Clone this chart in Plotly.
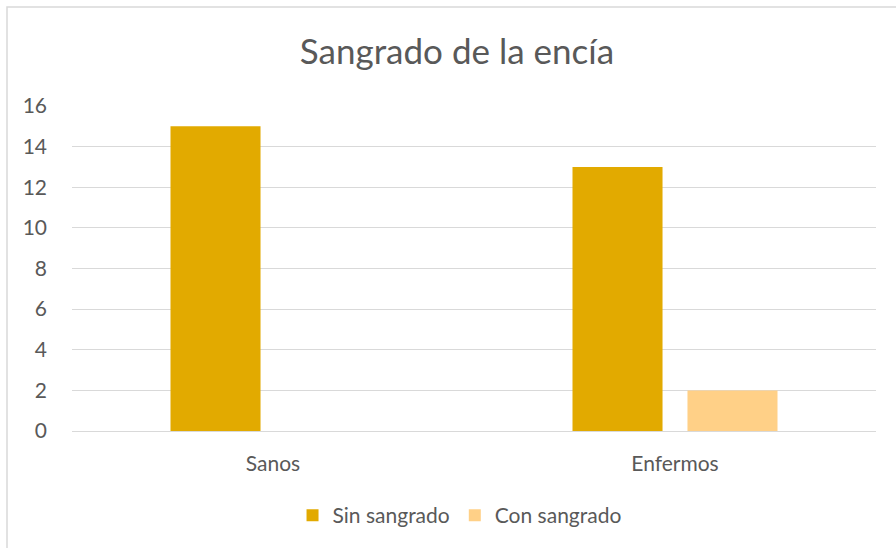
import plotly.graph_objects as go

categories = ["Sanos", "Enfermos"]
sin_sangrado = [15, 13]
con_sangrado = [0, 2]
y_ticks = [0, 2, 4, 6, 8, 10, 12, 14, 16]

TEXT = "#595959"
FONT = "Lato"

fig = go.Figure()
fig.add_trace(go.Bar(name="Sin sangrado", x=categories, y=sin_sangrado,
                     marker=dict(color="#E2AA00", line=dict(width=0))))
fig.add_trace(go.Bar(name="Con sangrado", x=categories, y=con_sangrado,
                     marker=dict(color="#FFD087", line=dict(width=0))))

fig.update_layout(
    width=896, height=548,
    margin=dict(l=72, r=20, t=106, b=117),
    paper_bgcolor="white", plot_bgcolor="white",
    barmode="group", bargap=0.428, bargroupgap=0.217,
    font=dict(family=FONT, color=TEXT, size=21),
    title=dict(text="Sangrado de la encía", x=0.51, xanchor="center",
               y=1 - 52 / 548, yanchor="middle",
               font=dict(family=FONT, size=35, color=TEXT)),
    showlegend=True,
    legend=dict(orientation="h", x=0.482, xanchor="center", y=-0.26, yanchor="middle",
                font=dict(family=FONT, size=21, color=TEXT),
                itemwidth=30, traceorder="normal"),
    xaxis=dict(showgrid=False, showline=False, ticks="", tickfont=dict(size=21, color=TEXT),
               ticklabelstandoff=18),
    yaxis=dict(range=[0, 16], tickvals=y_ticks, showgrid=True, gridcolor="#D9D9D9",
               gridwidth=1, zeroline=True, zerolinecolor="#D9D9D9", zerolinewidth=1,
               showline=False, ticks="", tickfont=dict(size=21, color=TEXT),
               ticklabelstandoff=24),
    shapes=[dict(type="rect", xref="paper", yref="paper",
                 x0=(7 - 72) / 804, x1=1.2, y0=-0.6, y1=(431 - 7) / 325,
                 line=dict(color="#D9D9D9", width=1.5), fillcolor="rgba(0,0,0,0)",
                 layer="below")],
)

fig.write_html("out.html")
